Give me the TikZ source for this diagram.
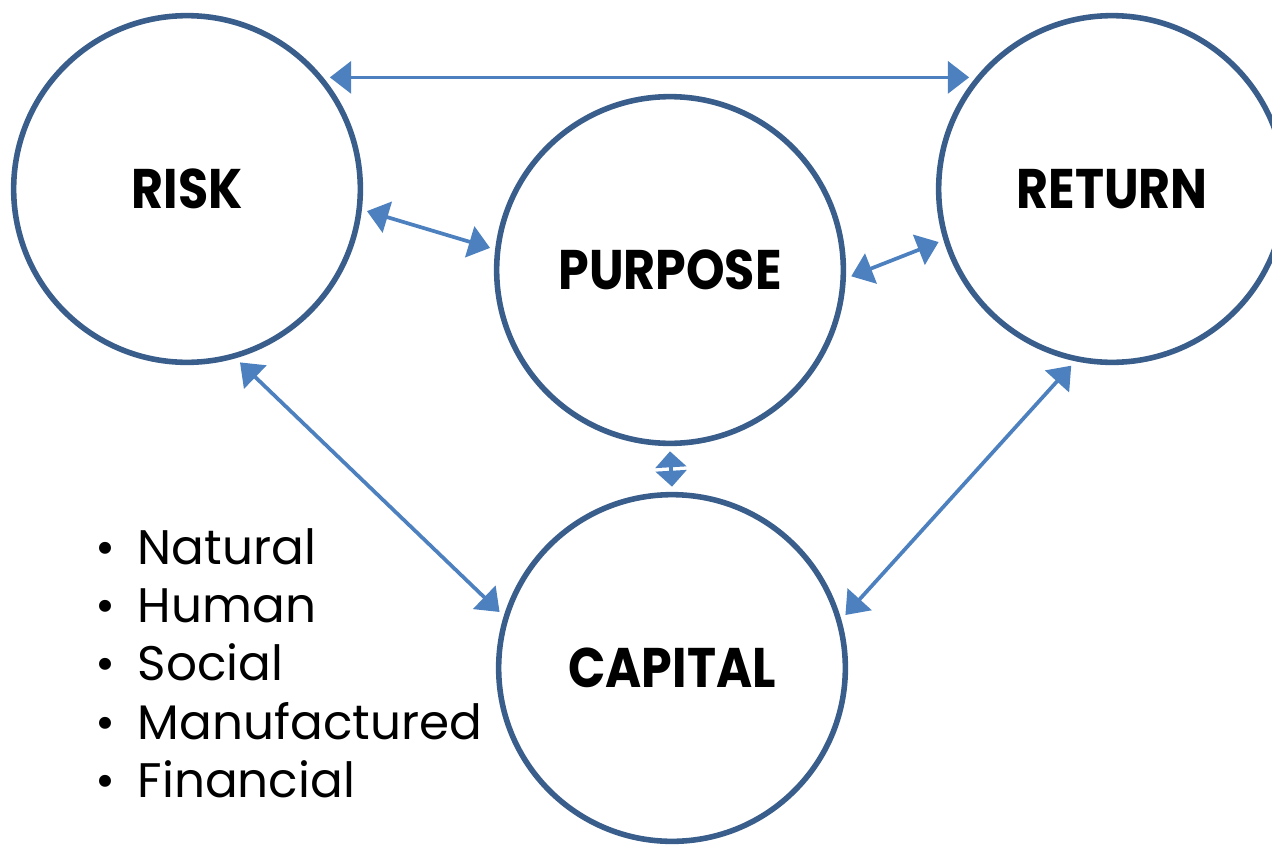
\documentclass[tikz,border=0pt]{standalone}
\usepackage{fontspec}
\setmainfont{Poppins}
\newfontfamily\labelfont[FakeStretch=0.88]{Poppins}
\usetikzlibrary{arrows.meta}

\definecolor{ringblue}{RGB}{58,94,140}
\definecolor{arrowblue}{RGB}{76,128,190}

\newcommand{\edgescl}{0.02646}
\newcommand{\coordscl}[1] {#1*\edgescl}
\newcommand{\rn}{\node[circle, draw=ringblue, line width=4.2pt, minimum size=261pt, outer sep=6pt, font=\labelfont\bfseries\fontsize{42}{42}\selectfont]}
\newcommand{\itn}{\node[anchor=base west, inner sep=0pt, font=\fontsize{36.5}{44}\selectfont]}

\tikzset{
    twoway/.style={{Triangle[length=16pt, width=24pt]}-{Triangle[length=16pt, width=24pt]}, draw=arrowblue, line width=2.8pt},
    shortway/.style={{Triangle[length=12pt, width=23pt]}-{Triangle[length=12pt, width=23pt]}, draw=arrowblue, line width=2.8pt}
}

\begin{document}
\begin{tikzpicture}
            \useasboundingbox (0,0) rectangle (\coordscl{1272}, \coordscl{-850});
            \clip (0,0) rectangle (\coordscl{1272}, \coordscl{-850});

            \rn (risk) at (\coordscl{187}, \coordscl{-189}) {RISK};
            \rn (purpose) at (\coordscl{670}, \coordscl{-270}) {PURPOSE};
            \rn (return) at (\coordscl{1112}, \coordscl{-189}) {RETURN};
            \rn (capital) at (\coordscl{672}, \coordscl{-668}) {CAPITAL};

            \draw[twoway] (risk.38) -- (return.142);
            \draw[twoway] (risk.-7) -- (purpose.173);
            \draw[twoway] (purpose.-2) -- (return.-163);
            \draw[twoway] (risk.-73) -- (capital.162);
            \draw[twoway] (return.-103) -- (capital.17);

            \draw[shortway]
                (purpose.-90) -- (capital.90);

            \itn (natural) at (\coordscl{95}, \coordscl{-564}) {\textbullet\hspace{17pt}Natural};
            \itn (human) at (\coordscl{95}, \coordscl{-622}) {\textbullet\hspace{17pt}Human};
            \itn (social) at (\coordscl{95}, \coordscl{-680}) {\textbullet\hspace{17pt}Social};
            \itn (manuf) at (\coordscl{95}, \coordscl{-739}) {\textbullet\hspace{17pt}Manufactured};
            \itn (financial) at (\coordscl{95}, \coordscl{-797}) {\textbullet\hspace{17pt}Financial};

        \end{tikzpicture}
\end{document}
